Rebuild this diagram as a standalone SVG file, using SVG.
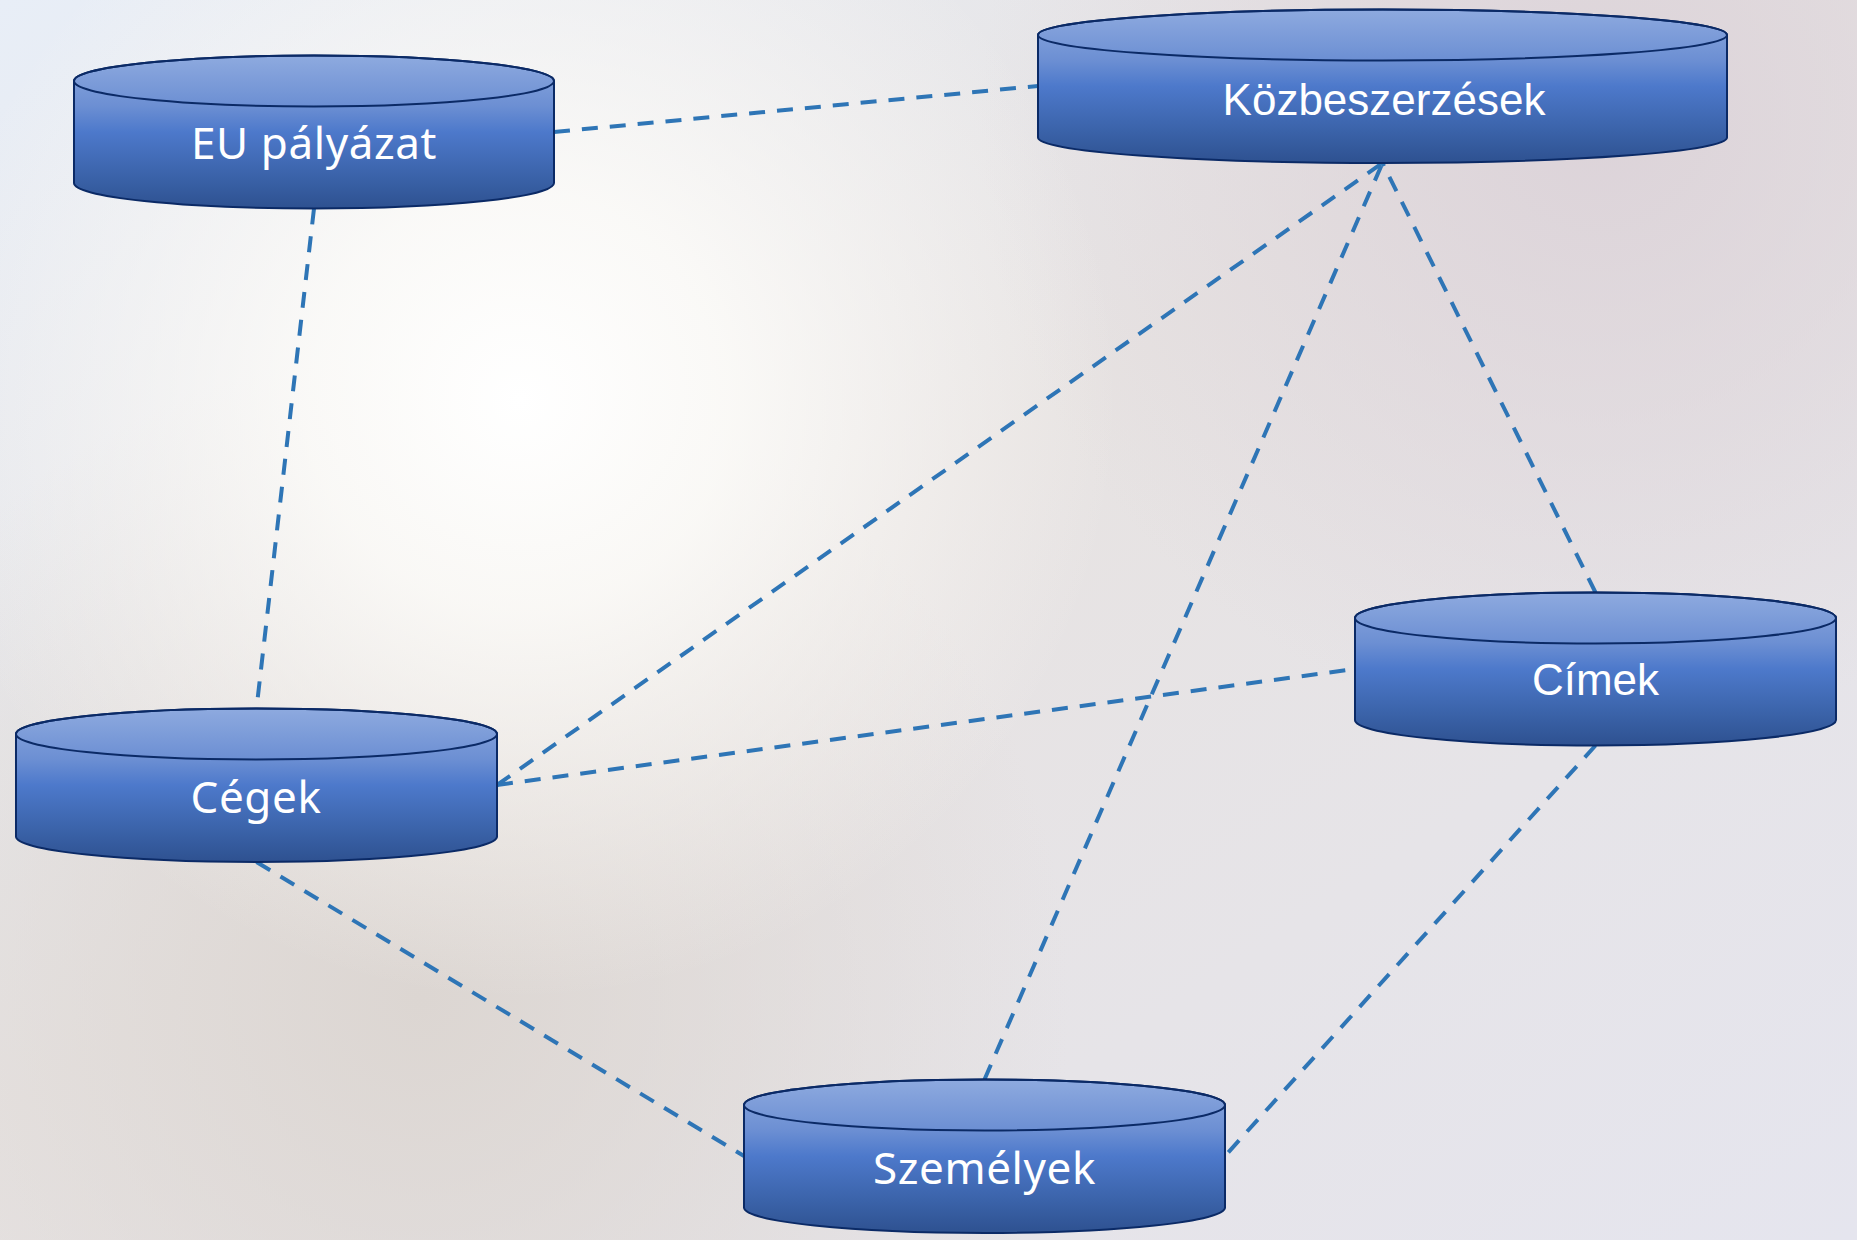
<svg xmlns="http://www.w3.org/2000/svg" width="1857" height="1240" viewBox="0 0 1857 1240">
  <defs>
    <linearGradient id="bgBase" x1="0" y1="0" x2="1" y2="1">
      <stop offset="0" stop-color="#e8eef7"/>
      <stop offset="0.45" stop-color="#e7e3e2"/>
      <stop offset="1" stop-color="#e5e5ee"/>
    </linearGradient>
    <radialGradient id="glow" cx="520" cy="400" r="600" gradientUnits="userSpaceOnUse">
      <stop offset="0" stop-color="#ffffff" stop-opacity="1"/>
      <stop offset="0.35" stop-color="#fdfcf9" stop-opacity="0.85"/>
      <stop offset="1" stop-color="#fbf8f4" stop-opacity="0"/>
    </radialGradient>
    <radialGradient id="pink" cx="1600" cy="120" r="620" gradientUnits="userSpaceOnUse">
      <stop offset="0" stop-color="#dcd3d9" stop-opacity="1"/>
      <stop offset="1" stop-color="#dcd3d9" stop-opacity="0"/>
    </radialGradient>
    <radialGradient id="warm" cx="420" cy="1000" r="650" gradientUnits="userSpaceOnUse">
      <stop offset="0" stop-color="#dcd6d2" stop-opacity="1"/>
      <stop offset="1" stop-color="#dcd6d2" stop-opacity="0"/>
    </radialGradient>
    <linearGradient id="cyl" x1="0" y1="0" x2="0" y2="1">
      <stop offset="0" stop-color="#8eaadf"/>
      <stop offset="0.33" stop-color="#6c8fd3"/>
      <stop offset="0.5" stop-color="#4d79cb"/>
      <stop offset="0.8" stop-color="#3a62a8"/>
      <stop offset="1" stop-color="#2e5190"/>
    </linearGradient>
    <style>
      .body { fill: url(#cyl); stroke: #0b2a66; stroke-width: 2; }
      .rim { fill: none; stroke: #0b2a66; stroke-width: 2; }
      .conn { fill: none; stroke: #2e75b6; stroke-width: 4; stroke-dasharray: 16 12; }
      .lblA { font-family: "Noto Sans", "Open Sans", sans-serif; font-size: 44px; letter-spacing: 0.6px; fill: #ffffff; text-anchor: middle; }
      .lblB { font-family: "Liberation Sans", Arial, sans-serif; font-size: 44px; fill: #ffffff; text-anchor: middle; }
    </style>
  </defs>

  <rect x="0" y="0" width="1857" height="1240" fill="url(#bgBase)"/>
  <rect x="0" y="0" width="1857" height="1240" fill="url(#warm)"/>
  <rect x="0" y="0" width="1857" height="1240" fill="url(#pink)"/>
  <rect x="0" y="0" width="1857" height="1240" fill="url(#glow)"/>

  <g id="connectors">
    <line class="conn" x1="554" y1="132" x2="1038" y2="86"/>
    <line class="conn" x1="314" y1="208.5" x2="256.5" y2="708.5"/>
    <line class="conn" x1="497" y1="785" x2="1382.5" y2="163"/>
    <line class="conn" x1="497" y1="785" x2="1355" y2="669"/>
    <line class="conn" x1="256.5" y1="862" x2="744" y2="1156"/>
    <line class="conn" x1="984.5" y1="1079.5" x2="1382.5" y2="163"/>
    <line class="conn" x1="1595.5" y1="592.5" x2="1382.5" y2="163"/>
    <line class="conn" x1="1595.5" y1="745.5" x2="1225" y2="1156"/>
  </g>

  <g id="eu-palyazat">
    <path class="body" d="M74,81 A240,25.5 0 0 1 554,81 L554,183 A240,25.5 0 0 1 74,183 Z"/>
    <ellipse class="rim" cx="314" cy="81" rx="240" ry="25.5"/>
    <text class="lblA" x="314" y="159">EU pályázat</text>
  </g>

  <g id="kozbeszerzesek">
    <path class="body" d="M1038,35 A344.5,25.5 0 0 1 1727,35 L1727,137.5 A344.5,25.5 0 0 1 1038,137.5 Z"/>
    <ellipse class="rim" cx="1382.5" cy="35" rx="344.5" ry="25.5"/>
    <text class="lblB" x="1384" y="115">Közbeszerzések</text>
  </g>

  <g id="cimek">
    <path class="body" d="M1355,618 A240.5,25.5 0 0 1 1836,618 L1836,720 A240.5,25.5 0 0 1 1355,720 Z"/>
    <ellipse class="rim" cx="1595.5" cy="618" rx="240.5" ry="25.5"/>
    <text class="lblB" x="1595.5" y="695">Címek</text>
  </g>

  <g id="cegek">
    <path class="body" d="M16,734 A240.5,25.5 0 0 1 497,734 L497,836.5 A240.5,25.5 0 0 1 16,836.5 Z"/>
    <ellipse class="rim" cx="256.5" cy="734" rx="240.5" ry="25.5"/>
    <text class="lblA" x="256" y="813">Cégek</text>
  </g>

  <g id="szemelyek">
    <path class="body" d="M744,1105 A240.5,25.5 0 0 1 1225,1105 L1225,1207.5 A240.5,25.5 0 0 1 744,1207.5 Z"/>
    <ellipse class="rim" cx="984.5" cy="1105" rx="240.5" ry="25.5"/>
    <text class="lblA" x="984.5" y="1184">Személyek</text>
  </g>
</svg>
